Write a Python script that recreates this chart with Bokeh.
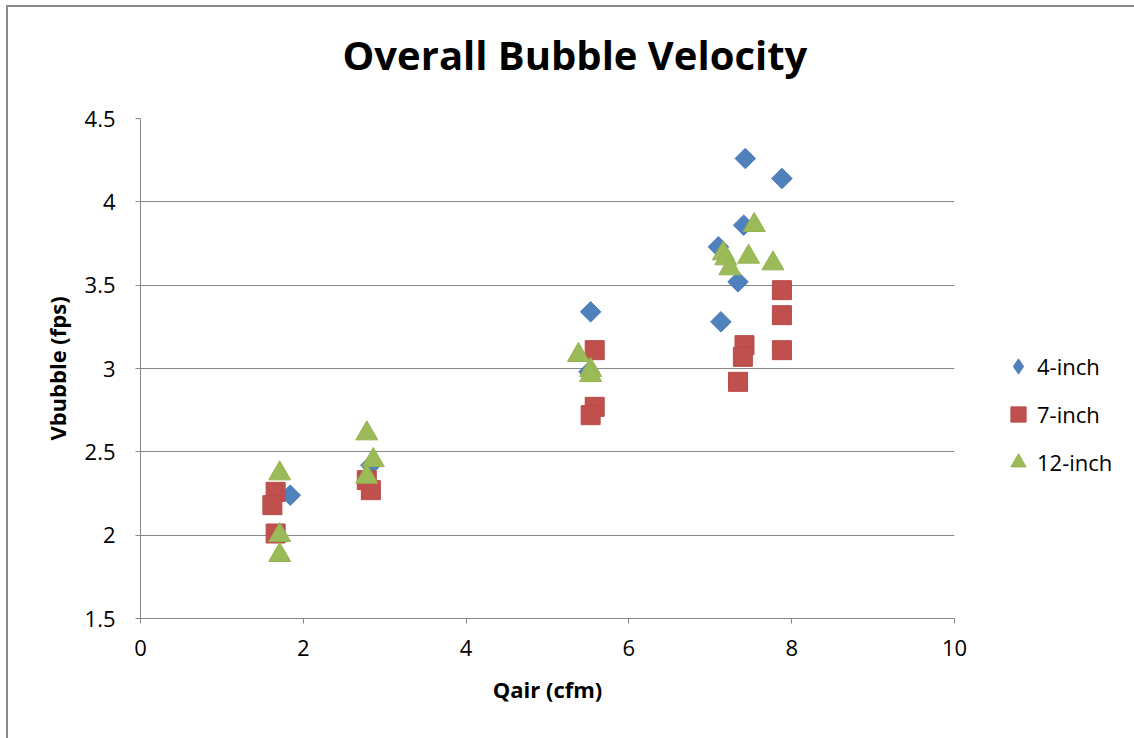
from bokeh.plotting import figure
from bokeh.models import (ColumnDataSource, Range1d, FixedTicker, Legend,
                          LegendItem, Title)
from bokeh.embed import file_html
from bokeh.resources import INLINE
import math

# Air flow rate (cfm) and bubble velocity (fps) for each pipe size
x_4in = [1.84, 2.83, 5.53, 5.51, 7.10, 7.43, 7.88, 7.41, 7.34, 7.13]
y_4in = [2.24, 2.42, 3.34, 2.98, 3.73, 4.26, 4.14, 3.86, 3.52, 3.28]

x_7in = [1.66, 1.62, 1.66, 2.78, 2.83, 5.58, 5.58, 5.53, 7.88, 7.88, 7.88, 7.42, 7.40, 7.34]
y_7in = [2.26, 2.18, 2.01, 2.33, 2.27, 3.11, 2.77, 2.72, 3.47, 3.32, 3.11, 3.14, 3.07, 2.92]

x_12in = [1.71, 1.71, 1.71, 2.78, 2.86, 2.78, 5.38, 5.53, 5.53, 7.54, 7.16, 7.19, 7.24, 7.47, 7.77]
y_12in = [2.37, 2.00, 1.88, 2.61, 2.45, 2.35, 3.08, 2.99, 2.96, 3.86, 3.69, 3.66, 3.60, 3.67, 3.63]

series_labels = ["4-inch", "7-inch", "12-inch"]

x_ticks = [0, 2, 4, 6, 8, 10]
x_tick_labels = ["0", "2", "4", "6", "8", "10"]
y_ticks = [1.5, 2, 2.5, 3, 3.5, 4, 4.5]
y_tick_labels = ["1.5", "2", "2.5", "3", "3.5", "4", "4.5"]

FONT = "Open Sans"
GRID = "#868686"
BLUE, RED, GREEN = "#4F81BD", "#C0504D", "#9BBB59"

p = figure(frame_width=814, frame_height=500,
           x_range=Range1d(0, 10), y_range=Range1d(1.5, 4.5),
           output_backend="svg", toolbar_location=None, title=None,
           min_border_left=132, min_border_right=0,
           min_border_top=111, min_border_bottom=120)

# outer chart border (top and left edges visible)
p.styles = {"margin-left": "6px", "margin-top": "5px",
            "border-top": "2px solid #8a8a8a", "border-left": "2px solid #8a8a8a"}

p.outline_line_color = None
p.background_fill_color = "white"
p.border_fill_color = "white"

# gap between the plot area and the chart title
p.add_layout(Title(text=" ", text_font=FONT, text_font_size="22px", standoff=0), "above")
p.add_layout(Title(text="Overall Bubble Velocity", text_font=FONT,
                   text_font_size="40px", text_font_style="bold",
                   text_color="black", align="left", offset=202,
                   vertical_align="bottom", standoff=10), "above")

p.xgrid.grid_line_color = None
p.ygrid.grid_line_color = GRID
p.ygrid.grid_line_width = 1

for ax in (p.xaxis[0], p.yaxis[0]):
    ax.axis_line_color = GRID
    ax.axis_line_width = 1
    ax.major_tick_line_color = GRID
    ax.major_tick_in = 0
    ax.major_tick_out = 5
    ax.minor_tick_line_color = None
    ax.major_label_text_font = FONT
    ax.major_label_text_font_size = "22px"
    ax.major_label_text_color = "black"
    ax.axis_label_text_font = FONT
    ax.axis_label_text_font_size = "22px"
    ax.axis_label_text_font_style = "bold"
    ax.axis_label_text_color = "black"

p.xaxis.ticker = FixedTicker(ticks=x_ticks)
p.xaxis.major_label_overrides = dict(zip(x_ticks, x_tick_labels))
p.yaxis.ticker = FixedTicker(ticks=y_ticks)
p.yaxis.major_label_overrides = dict(zip(y_ticks, y_tick_labels))

p.xaxis.axis_label = "Qair (cfm)"
p.yaxis.axis_label = "Vbubble (fps)"
p.xaxis.major_label_standoff = 16
p.yaxis.major_label_standoff = 20
p.xaxis.axis_label_standoff = 15
p.yaxis.axis_label_standoff = 10

src4 = ColumnDataSource(dict(x=x_4in, y=y_4in))
src7 = ColumnDataSource(dict(x=x_7in, y=y_7in))
src12 = ColumnDataSource(dict(x=x_12in, y=y_12in))

# diamond key for the 4-inch legend entry; sits hidden under the 4-inch markers
key4 = p.scatter("x", "y", source=src4, marker="diamond", size=12,
                 fill_color=BLUE, line_color="#4A7BB5", line_width=1)
r4 = p.scatter("x", "y", source=src4, marker="square", size=14.5, angle=math.pi / 4,
               fill_color=BLUE, line_color="#4A7BB5", line_width=1)
r7 = p.scatter("x", "y", source=src7, marker="square", size=19,
               fill_color=RED, line_color="#B84B48", line_width=1)
r12 = p.scatter("x", "y", source=src12, marker="triangle", size=22,
                fill_color=GREEN, line_color="#94B354", line_width=1)

legend = Legend(items=[LegendItem(label=series_labels[0], renderers=[key4]),
                       LegendItem(label=series_labels[1], renderers=[r7]),
                       LegendItem(label=series_labels[2], renderers=[r12])],
                location=(45, 137), orientation="vertical",
                glyph_width=38, glyph_height=38, label_standoff=0,
                spacing=10, padding=0, margin=0,
                border_line_color=None, background_fill_alpha=0,
                label_text_font=FONT, label_text_font_size="22px",
                label_text_color="black")
p.add_layout(legend, "right")

open("out.html", "w").write(file_html(p, INLINE))
